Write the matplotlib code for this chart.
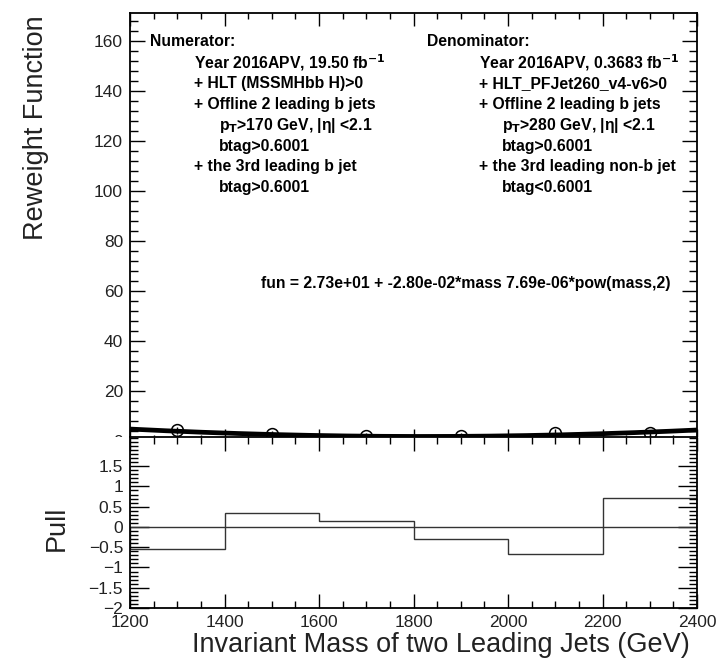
import numpy as np
import matplotlib
matplotlib.use("Agg")
import matplotlib.pyplot as plt
from matplotlib.patches import Rectangle
from matplotlib.ticker import MultipleLocator

plt.rcParams['font.family'] = ['Liberation Sans', 'DejaVu Sans']
plt.rcParams['mathtext.default'] = 'bf'

# dados
massa_pontos = [1300, 1500, 1700, 1900, 2100, 2300]
reweight = [4.3, 2.7, 1.9, 1.8, 3.3, 3.0]
reweight_err = [1.4, 1.4, 1.2, 1.2, 1.4, 1.5]

# coeficientes do ajuste (texto do grafico)
coef_fit = [2.73e+01, -2.80e-02, 7.69e-06]

bordas_pull = [1200, 1400, 1600, 1800, 2000, 2200, 2400]
pull = [-0.55, 0.34, 0.14, -0.29, -0.67, 0.72]

texto_num = ["Numerator:",
             "Year 2016APV, 19.50 fb$^{\\mathbf{-1}}$",
             "+ HLT (MSSMHbb H)>0",
             "+ Offline 2 leading b jets",
             "p$_{\\mathbf{T}}$>170 GeV, |\u03b7| <2.1",
             "btag>0.6001",
             "+ the 3rd leading b jet",
             "btag>0.6001"]
texto_den = ["Denominator:",
             "Year 2016APV, 0.3683 fb$^{\\mathbf{-1}}$",
             "+ HLT_PFJet260_v4-v6>0",
             "+ Offline 2 leading b jets",
             "p$_{\\mathbf{T}}$>280 GeV, |\u03b7| <2.1",
             "btag>0.6001",
             "+ the 3rd leading non-b jet",
             "btag<0.6001"]
recuo = [0, 1, 1, 1, 2, 2, 1, 2]

W, H = 725, 665
fig = plt.figure(figsize=(W / 100, H / 100), dpi=100)

def px(x0, y0, x1, y1):
    return [x0 / W, 1 - y1 / H, (x1 - x0) / W, (y1 - y0) / H]

ax = fig.add_axes(px(130, 13, 697, 441), zorder=1)
cobre = Rectangle((0, 0), 1, 1 - 437 / H, transform=fig.transFigure,
                  facecolor='white', edgecolor='none', zorder=1.5)
fig.patches.append(cobre)
axp = fig.add_axes(px(130, 437, 697, 608), zorder=2)

# painel de cima
xs = np.linspace(1200, 2400, 300)
ys = coef_fit[0] + coef_fit[1] * xs + coef_fit[2] * xs ** 2
ax.plot(xs, ys, color='black', lw=3.4, zorder=3)
ax.errorbar(massa_pontos, reweight, yerr=reweight_err, fmt='o', mfc='none',
            mec='black', ecolor='black', ms=8.5, mew=1.1, elinewidth=1.0, zorder=4)
ax.set_xlim(1200, 2400)
ax.set_ylim(0, 171)
ax.yaxis.set_minor_locator(MultipleLocator(4))
ax.xaxis.set_major_locator(MultipleLocator(200))
ax.xaxis.set_minor_locator(MultipleLocator(50))
ax.tick_params(which='both', direction='in', top=True, right=True, labelbottom=False,
               labelsize=12.5, width=1, pad=5, labelcolor='#222222')
ax.tick_params(which='major', axis='y', length=11)
ax.tick_params(which='minor', axis='y', length=5.5)
ax.tick_params(which='major', axis='x', length=9)
ax.tick_params(which='minor', axis='x', length=4.5)
for s in ax.spines.values():
    s.set_linewidth(1.3)
ax.set_yticks(np.arange(0, 161, 20))
ax.set_yticklabels([str(v) for v in range(0, 161, 20)])
fig.text(36 / W, 1 - 128 / H, 'Reweight Function', rotation=90, ha='center', va='center',
         fontsize=19.5, color='#222222')

lh = 20.8
for i, (t, r) in enumerate(zip(texto_num, recuo)):
    x0 = [150, 194, 219][r]
    fig.text(x0 / W, 1 - (42 + i * lh) / H, t, fontsize=11.3, fontweight='bold',
             va='center', ha='left')
for i, (t, r) in enumerate(zip(texto_den, recuo)):
    x0 = [427, 479, 502][r]
    fig.text(x0 / W, 1 - (42 + i * lh) / H, t, fontsize=11.3, fontweight='bold',
             va='center', ha='left')
fig.text(261 / W, 1 - 283 / H, 'fun = 2.73e+01 + -2.80e-02*mass 7.69e-06*pow(mass,2)',
         fontsize=11.3, fontweight='bold', va='center', ha='left')

# painel do pull
axp.set_facecolor('white')
axp.stairs(pull, bordas_pull, color='#333333', lw=1.0)
axp.axhline(0, color='#333333', lw=1.0)
axp.set_xlim(1200, 2400)
axp.set_ylim(-2, 2.22)
axp.xaxis.set_major_locator(MultipleLocator(200))
axp.xaxis.set_minor_locator(MultipleLocator(50))
axp.set_yticks([-2, -1.5, -1, -0.5, 0, 0.5, 1, 1.5])
axp.set_yticklabels(['\u22122', '\u22121.5', '\u22121', '\u22120.5', '0', '0.5', '1', '1.5'])
axp.yaxis.set_minor_locator(MultipleLocator(0.1))
axp.tick_params(which='both', direction='in', top=True, right=True,
                labelsize=12.5, width=1, pad=5, labelcolor='#222222')
axp.tick_params(which='major', axis='y', length=14)
axp.tick_params(which='minor', axis='y', length=6)
axp.tick_params(which='major', axis='x', length=10)
axp.tick_params(which='minor', axis='x', length=5)
for s in axp.spines.values():
    s.set_linewidth(1.3)
fig.text(57 / W, 1 - 528 / H, 'Pull', rotation=90, ha='center', va='center',
         fontsize=19.5, color='#222222')
fig.text(690 / W, 1 - 645 / H, 'Invariant Mass of two Leading Jets (GeV)', ha='right',
         va='center', fontsize=19.5, color='#222222')

fig.savefig('out.png', dpi=100)
